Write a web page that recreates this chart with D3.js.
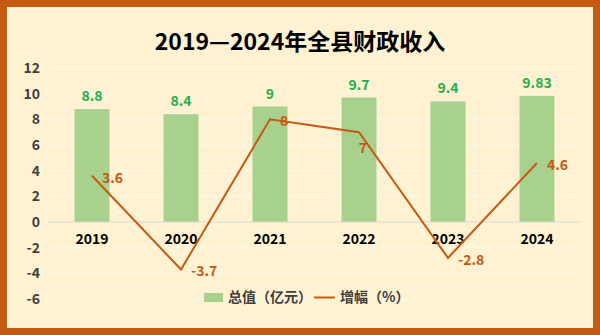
<!DOCTYPE html>
<html><head><meta charset="utf-8">
<script src="https://cdn.jsdelivr.net/npm/d3@7"></script>
<style>
html,body{margin:0;padding:0;background:#fff;}
svg{display:block;font-family:"Noto Sans CJK SC","Noto Sans",sans-serif;}
</style></head><body>
<svg id="c" width="600" height="335"></svg>
<script>
const title = "2019—2024年全县财政收入";
const categories = ["2019","2020","2021","2022","2023","2024"];
const totals = [8.8, 8.4, 9, 9.7, 9.4, 9.83];
const growth = [3.6, -3.7, 8, 7, -2.8, 4.6];
const yTicks = [-6,-4,-2,0,2,4,6,8,10,12];
const seriesNames = ["总值（亿元）","增幅（%）"];

const svg = d3.select("#c");
const W = 600, H = 335;
svg.append("rect").attr("x",3.5).attr("y",3.5).attr("width",W-7).attr("height",H-7)
  .attr("fill","#FEF2D2").attr("stroke","#C55A11").attr("stroke-width",7);

svg.append("text").attr("x",300).attr("y",50).attr("text-anchor","middle")
  .attr("font-size",23).attr("font-weight","bold").attr("fill","#000").text(title);

const x = d3.scaleBand().domain(categories).range([47.5,581.5]);
const y = d3.scaleLinear().domain([-6,12]).range([299,68]);

// gridlines
svg.append("g").selectAll("line").data(yTicks.filter(d=>d!==0)).join("line")
  .attr("x1",47.5).attr("x2",581.5).attr("y1",d=>y(d)).attr("y2",d=>y(d))
  .attr("stroke","#FFF8E6").attr("stroke-width",1);

// y axis labels
const yAxis = d3.axisLeft(y).tickValues(yTicks).tickFormat(d=>String(d)).tickSize(0).tickPadding(0);
const gy = svg.append("g").attr("transform","translate(40,0)").call(yAxis);
gy.select(".domain").remove();
gy.selectAll("text").attr("font-size",14).attr("font-weight","bold").attr("fill","#404040")
  .attr("font-family","'Noto Sans CJK SC','Noto Sans',sans-serif");

// bars
const bw = 35;
svg.append("g").selectAll("rect").data(totals).join("rect")
  .attr("x",(d,i)=>x(categories[i])+x.bandwidth()/2-bw/2)
  .attr("width",bw).attr("y",d=>y(d)).attr("height",d=>y(0)-y(d))
  .attr("fill","#A9D18E");

// zero line
svg.append("line").attr("x1",47.5).attr("x2",581.5).attr("y1",y(0)).attr("y2",y(0))
  .attr("stroke","#D9D9D9").attr("stroke-width",1);

// category labels
const xAxis = d3.axisBottom(x).tickSize(0).tickPadding(0);
const gx = svg.append("g").attr("transform",`translate(0,${y(0)+12})`).call(xAxis);
gx.select(".domain").remove();
gx.selectAll("text").attr("font-size",14).attr("font-weight","bold").attr("fill","#000")
  .attr("font-family","'Noto Sans CJK SC','Noto Sans',sans-serif");

// bar labels
svg.append("g").selectAll("text").data(totals).join("text")
  .attr("x",(d,i)=>x(categories[i])+x.bandwidth()/2)
  .attr("y",d=>y(d)-8).attr("text-anchor","middle")
  .attr("font-size",14).attr("font-weight","bold").attr("fill","#22B04B").text(d=>d);

// line
const cx = i=>x(categories[i])+x.bandwidth()/2;
const line = d3.line().x((d,i)=>cx(i)).y(d=>y(d));
svg.append("path").datum(growth).attr("d",line).attr("fill","none")
  .attr("stroke","#C55A11").attr("stroke-width",2).attr("stroke-linejoin","miter");

// line labels
svg.append("g").selectAll("text").data(growth).join("text")
  .attr("x",(d,i)=> i===3 ? cx(i)+4 : cx(i)+10)
  .attr("y",(d,i)=> i===3 ? y(d)+21 : y(d)+7)
  .attr("text-anchor", (d,i)=> i===3 ? "middle":"start")
  .attr("font-size",14).attr("font-weight","bold").attr("fill","#C55A11").text(d=>String(d));

// legend
const lg = svg.append("g");
lg.append("rect").attr("x",204).attr("y",293).attr("width",19).attr("height",9).attr("fill","#A9D18E");
lg.append("text").attr("x",228).attr("y",302).attr("font-size",14).attr("font-weight","bold").attr("fill","#404040").text(seriesNames[0]);
lg.append("line").attr("x1",314).attr("x2",335).attr("y1",297.5).attr("y2",297.5).attr("stroke","#C55A11").attr("stroke-width",2);
lg.append("text").attr("x",340).attr("y",302).attr("font-size",14).attr("font-weight","bold").attr("fill","#404040").text(seriesNames[1]);
</script>
</body></html>
